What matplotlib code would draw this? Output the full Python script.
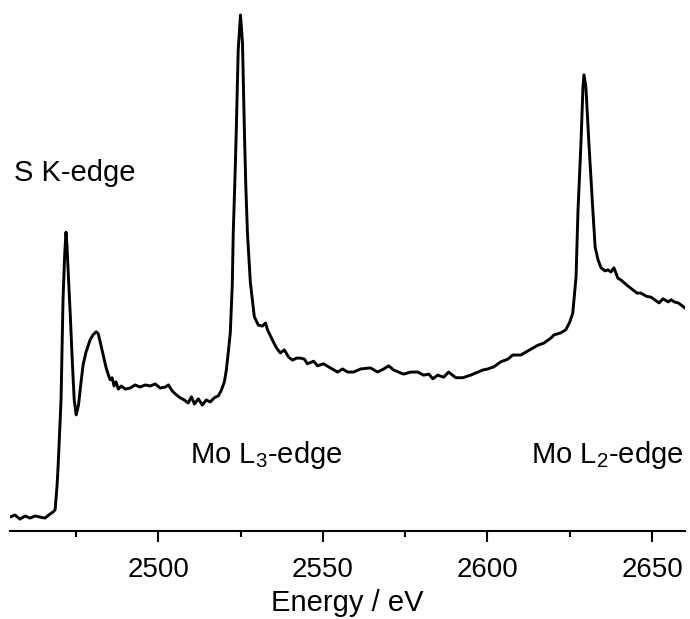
import matplotlib
matplotlib.use("Agg")
import matplotlib.pyplot as plt
from matplotlib.ticker import MultipleLocator

plt.rcParams["font.family"] = ["Liberation Sans", "DejaVu Sans"]
plt.rcParams["mathtext.default"] = "regular"

# spectrum (energy in eV, normalised intensity)
energy = [
    2455.0, 2456.5, 2458.0, 2459.6, 2461.1, 2462.6, 2464.1, 2465.6, 2467.2, 2468.1,
    2468.7, 2469.3, 2469.6, 2470.5, 2471.1, 2471.6, 2472.0, 2472.3, 2472.6, 2473.3,
    2473.9, 2474.5, 2475.1, 2475.8, 2476.4, 2477.2, 2478.1, 2479.3, 2480.2, 2481.2,
    2481.8, 2482.4, 2483.3, 2484.2, 2484.8, 2485.4, 2486.0, 2486.6, 2487.2, 2487.9,
    2488.8, 2490.0, 2491.5, 2493.0, 2494.5, 2496.1, 2497.6, 2499.1, 2500.6, 2502.2,
    2503.1, 2504.3, 2505.5, 2506.7, 2507.9, 2509.1, 2510.1, 2511.0, 2512.2, 2513.4,
    2514.6, 2515.8, 2517.0, 2518.3, 2519.2, 2520.1, 2520.7, 2521.3, 2521.9, 2522.5,
    2522.8, 2523.3, 2523.7, 2524.3, 2525.0, 2525.6, 2526.2, 2526.6, 2527.1, 2528.0,
    2529.2, 2530.4, 2531.6, 2532.6, 2533.2, 2534.1, 2534.7, 2535.9, 2537.1, 2538.3,
    2539.6, 2540.8, 2542.0, 2543.2, 2544.4, 2545.3, 2547.2, 2548.4, 2550.2, 2552.3,
    2554.5, 2556.0, 2557.5, 2559.3, 2561.5, 2564.5, 2566.6, 2568.5, 2570.0, 2571.5,
    2574.5, 2576.7, 2578.8, 2580.6, 2582.2, 2583.4, 2584.9, 2586.7, 2588.2, 2590.4,
    2592.5, 2594.9, 2597.1, 2598.6, 2600.1, 2601.9, 2604.1, 2606.2, 2607.7, 2610.1,
    2612.3, 2615.3, 2617.1, 2619.3, 2620.2, 2622.3, 2623.8, 2625.0, 2625.9, 2626.9,
    2627.5, 2628.4, 2629.0, 2629.3, 2629.9, 2630.8, 2632.0, 2632.7, 2633.6, 2634.5,
    2635.7, 2636.6, 2637.5, 2638.4, 2639.6, 2640.6, 2641.5, 2643.0, 2644.2, 2645.4,
    2646.6, 2648.2, 2649.7, 2651.2, 2652.1, 2653.3, 2654.9, 2655.8, 2656.7, 2657.9,
    2658.8, 2660.0,
]
intensity = [
    0.027, 0.031, 0.023, 0.029, 0.025, 0.029, 0.027, 0.025, 0.033, 0.037,
    0.041, 0.089, 0.124, 0.254, 0.448, 0.535, 0.579, 0.554, 0.512, 0.419,
    0.331, 0.254, 0.225, 0.244, 0.279, 0.322, 0.347, 0.370, 0.380, 0.386,
    0.382, 0.366, 0.341, 0.316, 0.304, 0.293, 0.297, 0.281, 0.289, 0.275,
    0.281, 0.275, 0.277, 0.283, 0.279, 0.283, 0.281, 0.285, 0.277, 0.279,
    0.283, 0.271, 0.264, 0.258, 0.254, 0.248, 0.260, 0.246, 0.256, 0.244,
    0.254, 0.250, 0.258, 0.262, 0.273, 0.289, 0.312, 0.347, 0.384, 0.477,
    0.578, 0.680, 0.771, 0.932, 1.000, 0.946, 0.771, 0.671, 0.578, 0.481,
    0.415, 0.399, 0.397, 0.403, 0.390, 0.378, 0.370, 0.355, 0.345, 0.351,
    0.337, 0.331, 0.335, 0.335, 0.333, 0.324, 0.329, 0.320, 0.324, 0.316,
    0.308, 0.314, 0.308, 0.308, 0.314, 0.316, 0.308, 0.314, 0.320, 0.312,
    0.304, 0.308, 0.308, 0.302, 0.304, 0.295, 0.302, 0.298, 0.308, 0.297,
    0.297, 0.302, 0.308, 0.312, 0.314, 0.318, 0.328, 0.333, 0.341, 0.341,
    0.349, 0.360, 0.364, 0.374, 0.380, 0.384, 0.390, 0.405, 0.422, 0.492,
    0.622, 0.752, 0.860, 0.884, 0.860, 0.752, 0.622, 0.550, 0.525, 0.510,
    0.504, 0.506, 0.502, 0.510, 0.490, 0.486, 0.481, 0.473, 0.467, 0.461,
    0.461, 0.455, 0.453, 0.446, 0.442, 0.450, 0.444, 0.448, 0.444, 0.442,
    0.438, 0.432,
]

# edge labels: (text, energy, intensity at baseline)
labels = ["S K-edge", "Mo L$_3$-edge", "Mo L$_2$-edge"]
label_x = [2456.2, 2509.8, 2613.2]
label_y = [0.678, 0.132, 0.132]

fig = plt.figure(figsize=(6.9, 6.19), dpi=100)
ax = fig.add_axes([0.0145, 0.1422, 0.9783, 0.8578])

ax.plot(energy, intensity, color="black", linewidth=2.1)

for txt, lx, ly in zip(labels, label_x, label_y):
    ax.text(lx, ly, txt, fontsize=21, ha="left", va="baseline")

ax.set_xlim(2455, 2660)
ax.set_ylim(0, 1.029)
for side in ["left", "right", "top"]:
    ax.spines[side].set_visible(False)
ax.spines["bottom"].set_linewidth(1.5)
ax.set_yticks([])
ax.xaxis.set_major_locator(MultipleLocator(50))
ax.xaxis.set_minor_locator(MultipleLocator(25))
ax.tick_params(axis="x", which="major", direction="out", length=8, width=1.5,
               labelsize=20, pad=11)
ax.tick_params(axis="x", which="minor", direction="out", length=4, width=1.5)
ax.set_xlabel("Energy / eV", fontsize=21, labelpad=4)

fig.savefig("out.png", dpi=100)
